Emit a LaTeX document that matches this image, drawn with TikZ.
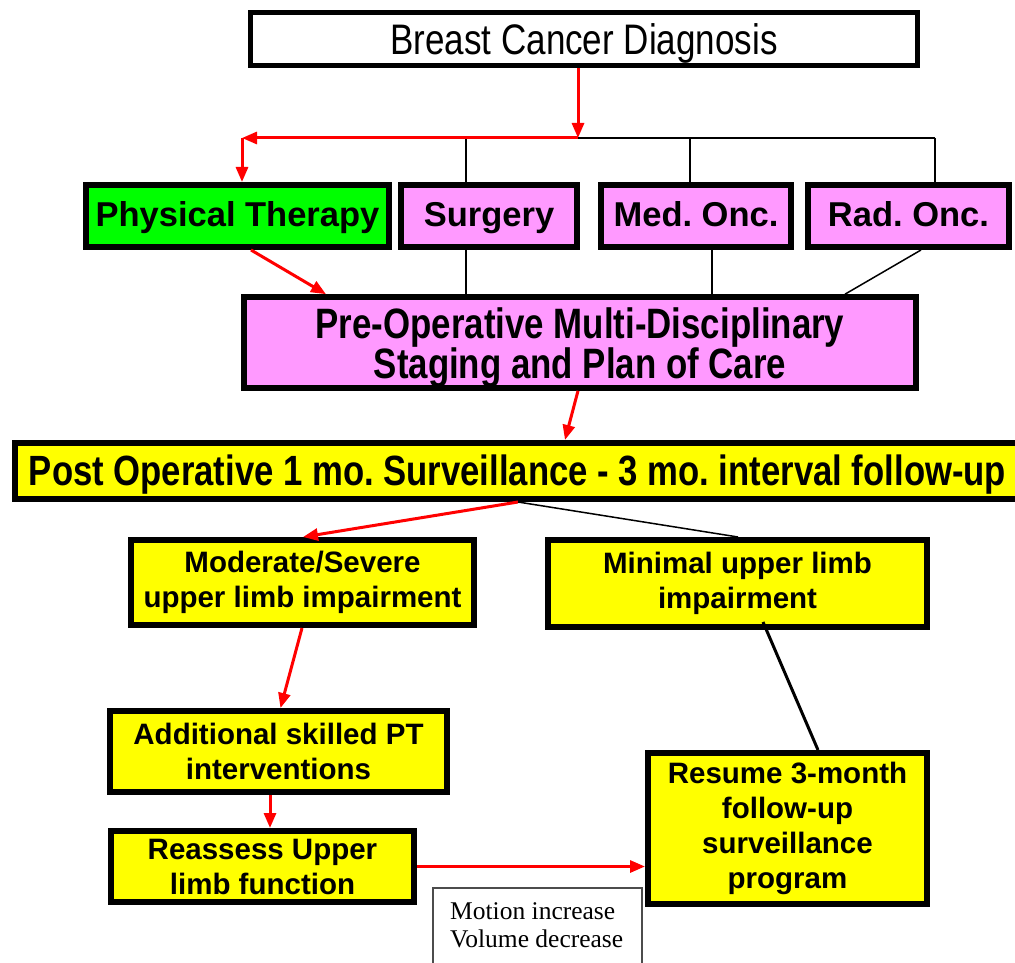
\documentclass[tikz,border=0pt]{standalone}
\usepackage{fontspec}
\setmainfont{Liberation Sans}
\newfontfamily\narrowfont[FakeStretch=0.82]{Liberation Sans}
\newfontfamily\seriffont{Liberation Serif}
\usetikzlibrary{arrows.meta,calc}
\definecolor{ptgreen}{HTML}{00FF00}
\definecolor{pinkbox}{HTML}{FF99FF}
\definecolor{yelbox}{HTML}{FFFF00}
\definecolor{redline}{HTML}{FF0000}
\frenchspacing
\begin{document}
\begin{tikzpicture}[x=1pt,y=-1pt,
  box/.style={draw=black,line width=6pt,inner sep=0pt,align=center,anchor=center},
  teamtext/.style={font={\bfseries\fontsize{34.5}{40}\selectfont},text height=25pt,text depth=5pt},
  yeltext/.style={font={\bfseries\fontsize{29.5}{35}\selectfont}},
  narrowbold/.style={font={\narrowfont\bfseries\fontsize{42.5}{39}\selectfont}},
  redarrow/.style={draw=redline,line width=3pt,-{Triangle[length=15pt,width=12pt]}},
  thinline/.style={draw=black,line width=1.5pt},
  thickline/.style={draw=black,line width=3pt}
]
\useasboundingbox (0,0) rectangle (1015,963);

% boxes
\node[box,fill=white,line width=5pt,minimum width=667pt,minimum height=53pt,text depth=0pt,
  font={\narrowfont\fontsize{42.7}{46}\selectfont}] (diag) at (584,39) {Breast Cancer Diagnosis};

\node[box,fill=ptgreen,teamtext,minimum width=303pt,minimum height=62pt] (pt) at (237.5,216) {Physical Therapy};
\node[box,fill=pinkbox,teamtext,minimum width=176pt,minimum height=62pt] (surg) at (489,216) {Surgery};
\node[box,fill=pinkbox,teamtext,minimum width=190pt,minimum height=62pt] (med) at (696,216) {Med. Onc.};
\node[box,fill=pinkbox,teamtext,minimum width=201pt,minimum height=62pt] (rad) at (908.5,216) {Rad. Onc.};

\node[box,fill=pinkbox,narrowbold,minimum width=672pt,minimum height=89pt] (preop) at (580,342.5)
  {\rule{0pt}{41pt}Pre-Operative Multi-Disciplinary\\Staging and Plan of Care};

\node[box,fill=yelbox,minimum width=1006pt,minimum height=56pt,text depth=2pt,
  font={\narrowfont\bfseries\fontsize{42.3}{46}\selectfont}] (postop) at (517.5,471)
  {Post Operative 1 mo. Surveillance - 3 mo. interval follow-up};

\node[box,fill=yelbox,yeltext,minimum width=343pt,minimum height=85pt] (mod) at (302.5,582.5)
  {Moderate/Severe\\upper limb impairment};
\node[box,fill=yelbox,yeltext,minimum width=379pt,minimum height=87pt] (mini) at (737.5,583.5)
  {Minimal upper limb\\impairment};
\node[box,fill=yelbox,yeltext,minimum width=337pt,minimum height=81pt] (add) at (278.5,751.5)
  {Additional skilled PT\\interventions};
\node[box,fill=yelbox,yeltext,minimum width=303pt,minimum height=71pt] (reas) at (262.5,866.5)
  {Reassess Upper\\limb function};
\node[box,fill=yelbox,yeltext,minimum width=279pt,minimum height=151pt] (resume) at (787.5,828.5)
  {Resume 3-month\\follow-up\\surveillance\\program};

% small note box
\draw[draw=black!70,line width=1.2pt,fill=white] (433,888) rectangle (642,990);
\node[inner sep=0pt,align=left,anchor=west,font={\seriffont\fontsize{25.5}{28}\selectfont}] (note) at (450,925)
  {Motion increase\\Volume decrease};

% junction coordinates
\coordinate (j) at (578,138);
\coordinate (k) at (242,138);
\coordinate (ts) at (466,138);
\coordinate (tm) at (690,138);
\coordinate (tr) at (935,138);

% top connectors
\draw[redarrow] (diag.south -| j) -- (j);
\draw[thinline] (j) -- (tr);
\draw[thinline] (ts) -- (ts |- surg.north);
\draw[thinline] (tm) -- (tm |- med.north);
\draw[thinline] (tr) -- (tr |- rad.north);
\draw[redarrow] (j) -- (k);
\draw[redarrow] (k) -- (k |- pt.north);

% to pre-op
\draw[redarrow] ($(pt.south)+(13.5,0)$) -- ($(preop.north)+(-254,0)$);
\draw[thinline] ($(surg.south)+(-23,0)$) -- ($(preop.north)+(-114,0)$);
\draw[thinline] ($(med.south)+(16,0)$) -- ($(preop.north)+(132,0)$);
\draw[thinline] ($(rad.south)+(12.5,0)$) -- ($(preop.north)+(265,0)$);

% pre-op to post-op
\draw[redarrow] ($(preop.south)+(-2,0)$) -- ($(postop.north)+(47.5,0)$);

% post-op branches
\draw[redarrow] ($(postop.south)+(0.5,0)$) -- ($(mod.north)+(0.5,0)$);
\draw[thinline] ($(postop.south)+(0.5,0)$) -- ($(mini.north)+(0.5,0)$);

% lower flow
\draw[redarrow] ($(mod.south)+(-0.5,0)$) -- ($(add.north)+(2,0)$);
\draw[redarrow] ($(add.south)+(-8.5,0)$) -- ($(reas.north)+(7.5,0)$);
\draw[thickline] ($(mini.south)+(25.5,-8)$) -- ($(resume.north)+(30.5,0)$);
\draw[redarrow] (reas.east) -- (reas.east -| resume.west);
\end{tikzpicture}
\end{document}
